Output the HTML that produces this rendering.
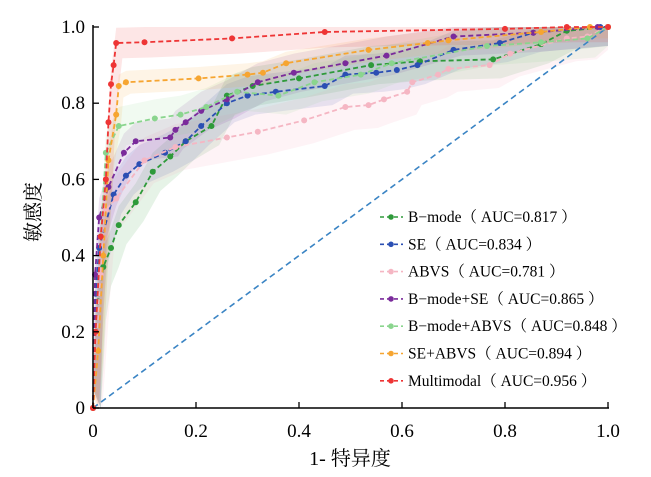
<!DOCTYPE html>
<html><head><meta charset="utf-8"><style>
html,body{margin:0;padding:0;background:#fff;}
svg{display:block;font-family:"Liberation Serif","Noto Serif CJK SC",serif;}
</style></head><body>
<svg id="chart" width="651" height="477" viewBox="0 0 651 477" xmlns="http://www.w3.org/2000/svg">
<g id="bands"></g>
<line id="diag" stroke="#3a84c4" stroke-width="1.6" stroke-dasharray="6,4"/>
<g id="series"></g>
<g id="axes"></g>
<g id="legend"></g>
<text x="350" y="465" font-size="20" text-anchor="middle">1- 特异度</text>
<text transform="translate(40,212) rotate(-90)" font-size="20" text-anchor="middle">敏感度</text>
</svg>
<script>
const seriesNames = ["B−mode","SE","ABVS","B−mode+SE","B−mode+ABVS","SE+ABVS","Multimodal"];
const aucValues = ["0.817","0.834","0.781","0.865","0.848","0.894","0.956"];
const xTicks = [0,0.2,0.4,0.6,0.8,1.0];
const yTicks = [0,0.2,0.4,0.6,0.8,1.0];
const bmodeFpr = [0,0.005,0.01,0.02,0.035,0.05,0.083,0.116,0.15,0.18,0.23,0.26,0.31,0.4,0.54,0.635,0.777,0.87,0.92,1];
const bmodeTpr = [0,0.15,0.28,0.37,0.42,0.48,0.54,0.62,0.66,0.70,0.74,0.82,0.845,0.865,0.90,0.91,0.915,0.955,0.99,1];
const seFpr = [0,0.005,0.012,0.04,0.064,0.09,0.14,0.18,0.21,0.26,0.30,0.355,0.45,0.49,0.55,0.59,0.63,0.70,0.79,0.855,0.985,1];
const seTpr = [0,0.3,0.42,0.56,0.61,0.64,0.67,0.70,0.74,0.80,0.82,0.83,0.845,0.875,0.88,0.887,0.90,0.94,0.958,0.985,1,1];
const abvsFpr = [0,0.005,0.015,0.025,0.045,0.10,0.16,0.26,0.32,0.41,0.49,0.535,0.565,0.61,0.62,0.67,0.69,0.77,0.81,0.92,0.96,1];
const abvsTpr = [0,0.15,0.35,0.52,0.55,0.65,0.685,0.71,0.725,0.755,0.79,0.795,0.81,0.83,0.855,0.875,0.89,0.90,0.93,0.97,0.975,1];
const bseFpr = [0,0.004,0.012,0.03,0.06,0.083,0.15,0.16,0.18,0.21,0.26,0.32,0.39,0.49,0.57,0.70,0.855,0.98,1];
const bseTpr = [0,0.35,0.50,0.58,0.67,0.70,0.71,0.73,0.75,0.78,0.81,0.855,0.88,0.905,0.925,0.975,0.985,1,1];
const babvsFpr = [0,0.005,0.015,0.025,0.05,0.12,0.17,0.22,0.28,0.36,0.43,0.52,0.58,0.765,0.87,0.96,1];
const babvsTpr = [0,0.2,0.45,0.67,0.74,0.76,0.77,0.79,0.83,0.82,0.855,0.875,0.905,0.95,0.96,0.97,1];
const seabvsFpr = [0,0.01,0.02,0.03,0.045,0.05,0.064,0.205,0.30,0.33,0.375,0.535,0.65,0.69,0.87,0.965,1];
const seabvsTpr = [0,0.15,0.4,0.65,0.77,0.845,0.855,0.865,0.875,0.88,0.905,0.94,0.958,0.965,0.987,1,1];
const multiFpr = [0,0.005,0.015,0.025,0.03,0.035,0.04,0.045,0.10,0.27,0.45,0.80,0.92,1];
const multiTpr = [0,0.2,0.45,0.6,0.75,0.85,0.9,0.958,0.96,0.97,0.987,0.995,1,1];

const fprs=[bmodeFpr,seFpr,abvsFpr,bseFpr,babvsFpr,seabvsFpr,multiFpr];
const tprs=[bmodeTpr,seTpr,abvsTpr,bseTpr,babvsTpr,seabvsTpr,multiTpr];
const colors=["#2e9a3a","#2b4fb3","#f5b6c3","#7a2b9b","#8ad58e","#f6a531","#ee3535"];
const bandColors=["#2e9a3a","#2b4fb3","#f7a0b4","#7a2b9b","#8ad58e","#f6a531","#ee3535"];
const bandHalf=[0.05,0.05,0.06,0.05,0.05,0.03,0.04];
const NS="http://www.w3.org/2000/svg";
const X0=93,X1=608,Y0=408,Y1=27;
const sx=v=>X0+v*(X1-X0);
const sy=v=>Y0-v*(Y0-Y1);
function mk(tag,attrs,parent){const e=document.createElementNS(NS,tag);for(const k in attrs)e.setAttribute(k,attrs[k]);parent.appendChild(e);return e;}

const diag=document.getElementById('diag');
diag.setAttribute('x1',sx(0));diag.setAttribute('y1',sy(0));diag.setAttribute('x2',sx(1));diag.setAttribute('y2',sy(1));

const bands=document.getElementById('bands'),series=document.getElementById('series');
fprs.forEach((f,i)=>{
  const t=tprs[i],h=bandHalf[i];
  let up=f.map((x,j)=>sx(x)+','+sy(Math.min(1,t[j]+h))).join(' ');
  let lo=f.map((x,j)=>sx(Math.min(1,x+h*0.3))+','+sy(Math.max(0,t[j]-h))).reverse().join(' ');
  const b=mk('polygon',{points:up+' '+lo,fill:bandColors[i],'fill-opacity':0.12},bands);
  
  
  const g=mk('g',{},series);
  
  
  mk('polyline',{points:f.map((x,j)=>sx(x)+','+sy(t[j])).join(' '),fill:'none',stroke:colors[i],'stroke-width':1.8,'stroke-dasharray':'5,3'},g);
  f.forEach((x,j)=>{
    const c=mk('circle',{cx:sx(x),cy:sy(t[j]),r:3,fill:colors[i]},g);
    
    
  });
});

const axes=document.getElementById('axes');
mk('line',{x1:X0,y1:Y1-2,x2:X0,y2:Y0,stroke:'#000','stroke-width':1.5},axes);
mk('line',{x1:X0,y1:Y0,x2:X1+1,y2:Y0,stroke:'#000','stroke-width':1.5},axes);
xTicks.forEach(v=>{
  mk('line',{x1:sx(v),y1:Y0,x2:sx(v),y2:Y0-6,stroke:'#000','stroke-width':1.3},axes);
  const t=mk('text',{x:sx(v),y:437,'font-size':19,'text-anchor':'middle'},axes);
  t.textContent=v===0?'0':v.toFixed(1);
  
  
});
yTicks.forEach(v=>{
  mk('line',{x1:X0,y1:sy(v),x2:X0+6,y2:sy(v),stroke:'#000','stroke-width':1.3},axes);
  const t=mk('text',{x:85,y:sy(v)+6,'font-size':19,'text-anchor':'end'},axes);
  t.textContent=v===0?'0':v.toFixed(1);
  
  
});

const legend=document.getElementById('legend');
seriesNames.forEach((n,i)=>{
  const y=217+i*27.3;
  const g=mk('g',{},legend);
  
  
  mk('line',{x1:380,y1:y,x2:403,y2:y,stroke:colors[i],'stroke-width':1.6,'stroke-dasharray':'4,3'},g);
  mk('circle',{cx:391,cy:y,r:2.8,fill:colors[i]},g);
  const t=mk('text',{x:408,y:y+5,'font-size':15.5},g);
  t.textContent=n+'（ AUC='+aucValues[i]+' ）';
});
</script>
</body></html>
